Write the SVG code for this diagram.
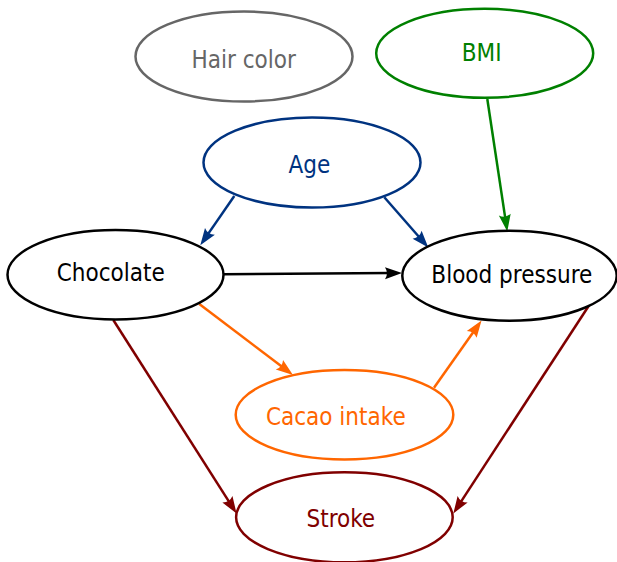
<svg xmlns="http://www.w3.org/2000/svg" width="617" height="562" viewBox="0 0 617 562">
  <style>
    .node ellipse { fill: #ffffff; stroke-width: 2.5; }
    .node text { font-family: "DejaVu Sans Condensed", "DejaVu Sans", sans-serif; font-stretch: condensed; font-size: 24px; text-anchor: middle; }
    .edge { fill: none; stroke-width: 2.5; }
    .gray { stroke: #666666; } .gray-t { fill: #666666; }
    .green { stroke: #008000; } .green-t { fill: #008000; }
    .blue { stroke: #003380; } .blue-t { fill: #003380; }
    .black { stroke: #000000; } .black-t { fill: #000000; }
    .orange { stroke: #ff6600; } .orange-t { fill: #ff6600; }
    .red { stroke: #800000; } .red-t { fill: #800000; }
  </style>
  <defs>
    <!-- barbed arrowhead: tip 12px ahead of the line end, concave back -->
    <path id="head" d="M12,0 L-5,-6 Q-1,0 -5,6 Z"/>
    <marker id="arr-green" markerUnits="userSpaceOnUse" viewBox="-6 -7 19 14" refX="0" refY="0" markerWidth="19" markerHeight="14" orient="auto" overflow="visible">
      <use href="#head" fill="#008000"/>
    </marker>
    <marker id="arr-blue" markerUnits="userSpaceOnUse" viewBox="-6 -7 19 14" refX="0" refY="0" markerWidth="19" markerHeight="14" orient="auto" overflow="visible">
      <use href="#head" fill="#003380"/>
    </marker>
    <marker id="arr-black" markerUnits="userSpaceOnUse" viewBox="-6 -7 19 14" refX="0" refY="0" markerWidth="19" markerHeight="14" orient="auto" overflow="visible">
      <use href="#head" fill="#000000"/>
    </marker>
    <marker id="arr-orange" markerUnits="userSpaceOnUse" viewBox="-6 -7 19 14" refX="0" refY="0" markerWidth="19" markerHeight="14" orient="auto" overflow="visible">
      <use href="#head" fill="#ff6600"/>
    </marker>
    <marker id="arr-red" markerUnits="userSpaceOnUse" viewBox="-6 -7 19 14" refX="0" refY="0" markerWidth="19" markerHeight="14" orient="auto" overflow="visible">
      <use href="#head" fill="#800000"/>
    </marker>
  </defs>
  <rect width="617" height="562" fill="#ffffff"/>

  <!-- connectors -->
  <g id="edges">
    <line class="edge green" x1="487.3" y1="99" x2="505.5" y2="219.6" marker-end="url(#arr-green)"/>
    <line class="edge blue" x1="234.3" y1="196" x2="207.1" y2="235.4" marker-end="url(#arr-blue)"/>
    <line class="edge blue" x1="384.3" y1="197.3" x2="420.4" y2="238.5" marker-end="url(#arr-blue)"/>
    <line class="edge black" x1="224" y1="274.3" x2="390" y2="273.09" marker-end="url(#arr-black)"/>
    <line class="edge orange" x1="199.3" y1="304" x2="283.4" y2="367.75" marker-end="url(#arr-orange)"/>
    <line class="edge orange" x1="434" y1="387.7" x2="474.6" y2="330.3" marker-end="url(#arr-orange)"/>
    <line class="edge red" x1="113.3" y1="320" x2="230.1" y2="503.4" marker-end="url(#arr-red)"/>
    <line class="edge red" x1="589.3" y1="305" x2="459.9" y2="503.4" marker-end="url(#arr-red)"/>
  </g>

  <!-- nodes -->
  <g id="hair-color" class="node">
    <ellipse class="gray" cx="244" cy="56.5" rx="108.5" ry="45"/>
    <text class="gray-t" x="243.7" y="67.5">Hair color</text>
  </g>
  <g id="bmi" class="node">
    <ellipse class="green" cx="484.7" cy="53.3" rx="108.5" ry="44.5"/>
    <text class="green-t" x="481.7" y="61">BMI</text>
  </g>
  <g id="age" class="node">
    <ellipse class="blue" cx="312" cy="162.5" rx="108.5" ry="45"/>
    <text class="blue-t" x="309.3" y="173">Age</text>
  </g>
  <g id="chocolate" class="node">
    <ellipse class="black" cx="115.5" cy="274.7" rx="108" ry="44.7"/>
    <text class="black-t" x="110.8" y="280.7">Chocolate</text>
  </g>
  <g id="blood-pressure" class="node">
    <ellipse class="black" cx="509.5" cy="275.7" rx="107.2" ry="45"/>
    <text class="black-t" x="511.8" y="283.3">Blood pressure</text>
  </g>
  <g id="cacao-intake" class="node">
    <ellipse class="orange" cx="344.5" cy="414.7" rx="108.8" ry="44.7"/>
    <text class="orange-t" x="335.8" y="425">Cacao intake</text>
  </g>
  <g id="stroke" class="node">
    <ellipse class="red" cx="344.4" cy="517.3" rx="108.3" ry="45"/>
    <text class="red-t" x="340.8" y="526.7">Stroke</text>
  </g>
</svg>
